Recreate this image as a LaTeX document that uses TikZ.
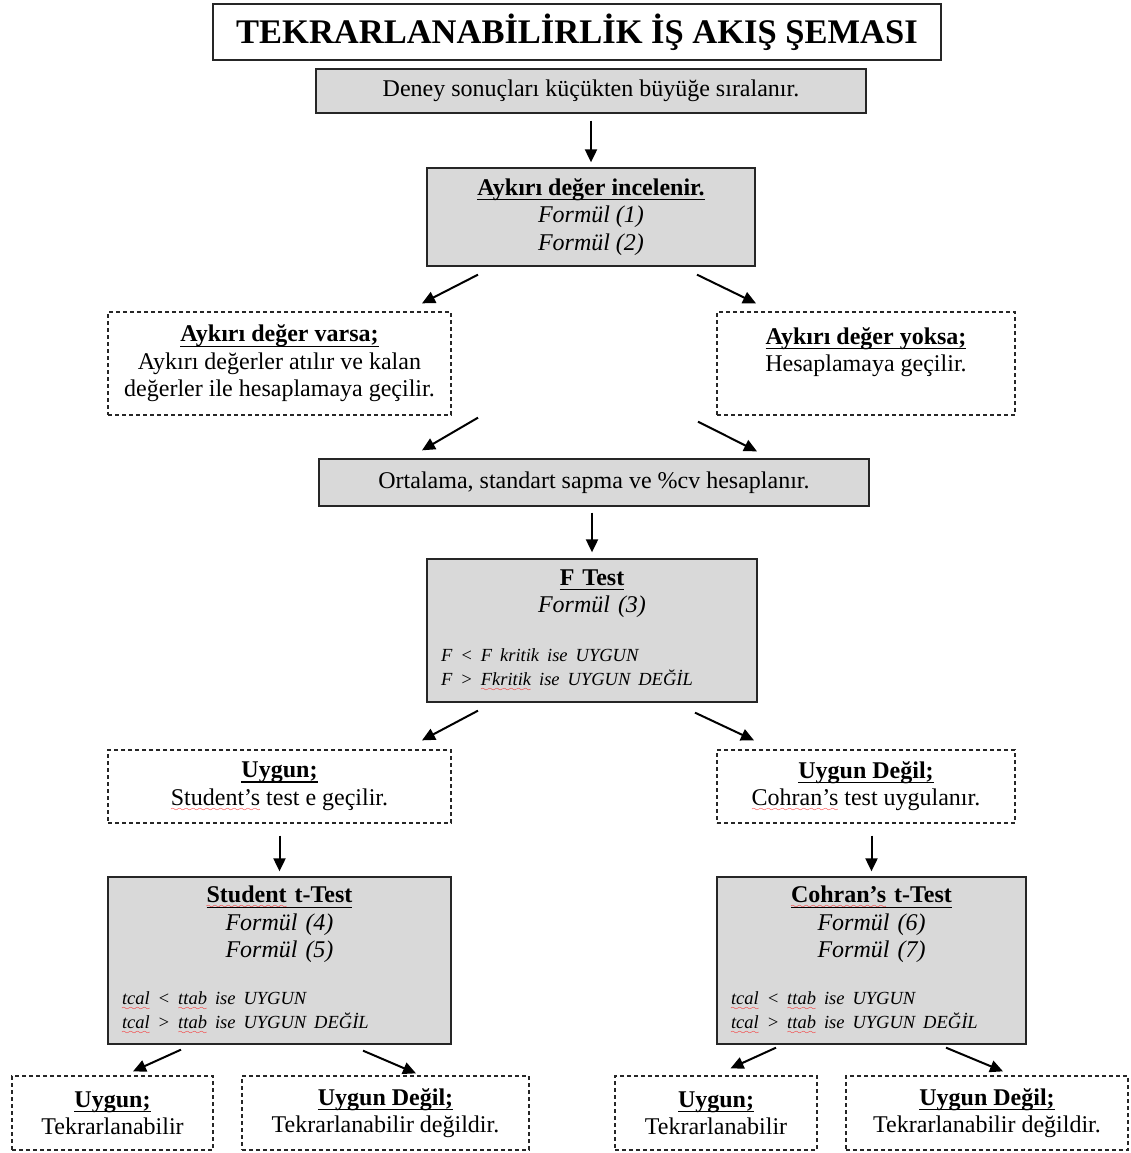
\documentclass[tikz,border=0pt]{standalone}
\usepackage{fontspec}
\setmainfont{Liberation Serif}
\usetikzlibrary{arrows.meta}

\definecolor{boxgray}{HTML}{D9D9D9}
\font\wavefont=lasy6 at 8pt

% underline and spell-check wave
\newsavebox\ulbox
\newsavebox\wvbox
\newcommand\ulined[1]{\leavevmode\sbox\ulbox{#1}\rlap{\rule[-5pt]{\wd\ulbox}{1.3pt}}\usebox\ulbox}
\newcommand\wavy[1]{\leavevmode\sbox\wvbox{#1}\rlap{\color{red}\lower6pt\hbox to\wd\wvbox{\xleaders\hbox{\wavefont\char58}\hfil}}\usebox\wvbox}
\newcommand\smallit{\fontsize{18.5}{24.5}\selectfont\itshape}

\tikzset{
  base/.style={inner sep=0pt, align=center, font=\fontsize{24}{27.5}\selectfont},
  graybox/.style={base, draw=black!85, line width=1.3pt, fill=boxgray},
  dashbox/.style={base, draw=black!85, line width=1.3pt, dash pattern=on 4pt off 3pt},
  testbox/.style={inner sep=0pt, font=\fontsize{24}{27.5}\selectfont, draw=black!85, line width=1.3pt, fill=boxgray},
  arr/.style={-{Triangle[length=13pt,width=12pt]}, line width=2pt},
}

\begin{document}
\begin{tikzpicture}[x=1pt, y=-1pt]
	\useasboundingbox (0,0) rectangle (1130,1153);

	% title
	\node[base, draw=black!85, line width=1.3pt, fill=white, minimum width=728pt, minimum height=56pt,
	  font=\fontsize{34.5}{38}\selectfont\bfseries] (title) at (577,32) {TEKRARLANABİLİRLİK İŞ AKIŞ ŞEMASI};

	% outlier check
	\node[graybox, minimum width=550pt, minimum height=44pt] (deney) at (591,91) {Deney sonuçları küçükten büyüğe sıralanır.};
	\node[graybox, minimum width=328pt, minimum height=98pt] (aykiri) at (591,217)
	  {\ulined{\textbf{Aykırı değer incelenir.}}\\\textit{Formül (1)}\\\textit{Formül (2)}};
	\node[dashbox, minimum width=343pt, minimum height=103pt] (varsa) at (279.5,363.5)
	  {\ulined{\textbf{Aykırı değer varsa;}}\\Aykırı değerler atılır ve kalan\\değerler ile hesaplamaya geçilir.};
	\node[dashbox, minimum width=298pt, minimum height=103pt] (yoksa) at (866,363.5)
	  {\ulined{\textbf{Aykırı değer yoksa;}}\\Hesaplamaya geçilir.\\\mbox{}};
	\node[graybox, minimum width=550pt, minimum height=47pt] (ortalama) at (594,482.5) {Ortalama, standart sapma ve \%cv hesaplanır.};

	% F test
	\node[testbox, minimum width=330pt, minimum height=143pt, text width=302pt] (ftest) at (592,630.5)
	  {\centering\ulined{\textbf{F Test}}\\\textit{Formül (3)}\par\vspace{24pt}
	   \raggedright\smallit F < F kritik ise UYGUN\\F > \wavy{Fkritik} ise UYGUN DEĞİL\par};
	\node[dashbox, minimum width=343pt, minimum height=73pt] (uygunL) at (279.5,786.5)
	  {\ulined{\textbf{Uygun;}}\\\wavy{Student’s} test e geçilir.};
	\node[dashbox, minimum width=298pt, minimum height=73pt] (uygunR) at (866,786.5)
	  {\ulined{\textbf{Uygun Değil;}}\\\wavy{Cohran’s} test uygulanır.};

	% t tests
	\node[testbox, minimum width=343pt, minimum height=167pt, text width=315pt] (student) at (279.5,960.5)
	  {\centering\ulined{\textbf{\wavy{Student} t-Test}}\\\textit{Formül (4)}\\\textit{Formül (5)}\par\vspace{22pt}
	   \raggedright\smallit\wavy{tcal} < \wavy{ttab} ise UYGUN\\\wavy{tcal} > \wavy{ttab} ise UYGUN DEĞİL\par};
	\node[testbox, minimum width=309pt, minimum height=167pt, text width=281pt] (cohran) at (871.5,960.5)
	  {\centering\ulined{\textbf{\wavy{Cohran’s} t-Test}}\\\textit{Formül (6)}\\\textit{Formül (7)}\par\vspace{22pt}
	   \raggedright\smallit\wavy{tcal} < \wavy{ttab} ise UYGUN\\\wavy{tcal} > \wavy{ttab} ise UYGUN DEĞİL\par};

	% results
	\node[dashbox, minimum width=201pt, minimum height=74pt] (sonuc1) at (112.5,1113) {\ulined{\textbf{Uygun;}}\\Tekrarlanabilir};
	\node[dashbox, minimum width=287pt, minimum height=74pt] (sonuc2) at (385.5,1113) {\ulined{\textbf{Uygun Değil;}}\\Tekrarlanabilir değildir.};
	\node[dashbox, minimum width=202pt, minimum height=74pt] (sonuc3) at (716,1113) {\ulined{\textbf{Uygun;}}\\Tekrarlanabilir};
	\node[dashbox, minimum width=282pt, minimum height=74pt] (sonuc4) at (987,1113) {\ulined{\textbf{Uygun Değil;}}\\Tekrarlanabilir değildir.};

	% arrows
	\draw[arr] ([yshift=-7pt]deney.south) -- ([yshift=5pt]aykiri.north);
	\draw[arr] ([xshift=-113pt,yshift=-8pt]aykiri.south) -- ([xshift=142.5pt,yshift=8pt]varsa.north);
	\draw[arr] ([xshift=106pt,yshift=-8pt]aykiri.south) -- ([xshift=-110pt,yshift=8pt]yoksa.north);
	\draw[arr] ([xshift=198.5pt,yshift=-2pt]varsa.south) -- ([xshift=-172pt,yshift=8pt]ortalama.north);
	\draw[arr] ([xshift=-168pt,yshift=-6pt]yoksa.south) -- ([xshift=163pt,yshift=7pt]ortalama.north);
	\draw[arr] ([xshift=-2pt,yshift=-6pt]ortalama.south) -- ([yshift=6pt]ftest.north);
	\draw[arr] ([xshift=-114pt,yshift=-8pt]ftest.south) -- ([xshift=142.5pt,yshift=9pt]uygunL.north);
	\draw[arr] ([xshift=103pt,yshift=-10pt]ftest.south) -- ([xshift=-112pt,yshift=9pt]uygunR.north);
	\draw[arr] ([yshift=-12pt]uygunL.south) -- ([yshift=5pt]student.north);
	\draw[arr] ([xshift=5.5pt,yshift=-12pt]uygunR.south) -- ([yshift=5pt]cohran.north);
	\draw[arr] ([xshift=-98.5pt,yshift=-5pt]student.south) -- ([xshift=20.5pt,yshift=4pt]sonuc1.north);
	\draw[arr] ([xshift=83.5pt,yshift=-6pt]student.south) -- ([xshift=30.5pt,yshift=2pt]sonuc2.north);
	\draw[arr] ([xshift=-95.5pt,yshift=-3pt]cohran.south) -- ([xshift=14.5pt,yshift=7pt]sonuc3.north);
	\draw[arr] ([xshift=74.5pt,yshift=-3pt]cohran.south) -- ([xshift=16pt,yshift=4pt]sonuc4.north);
\end{tikzpicture}
\end{document}
